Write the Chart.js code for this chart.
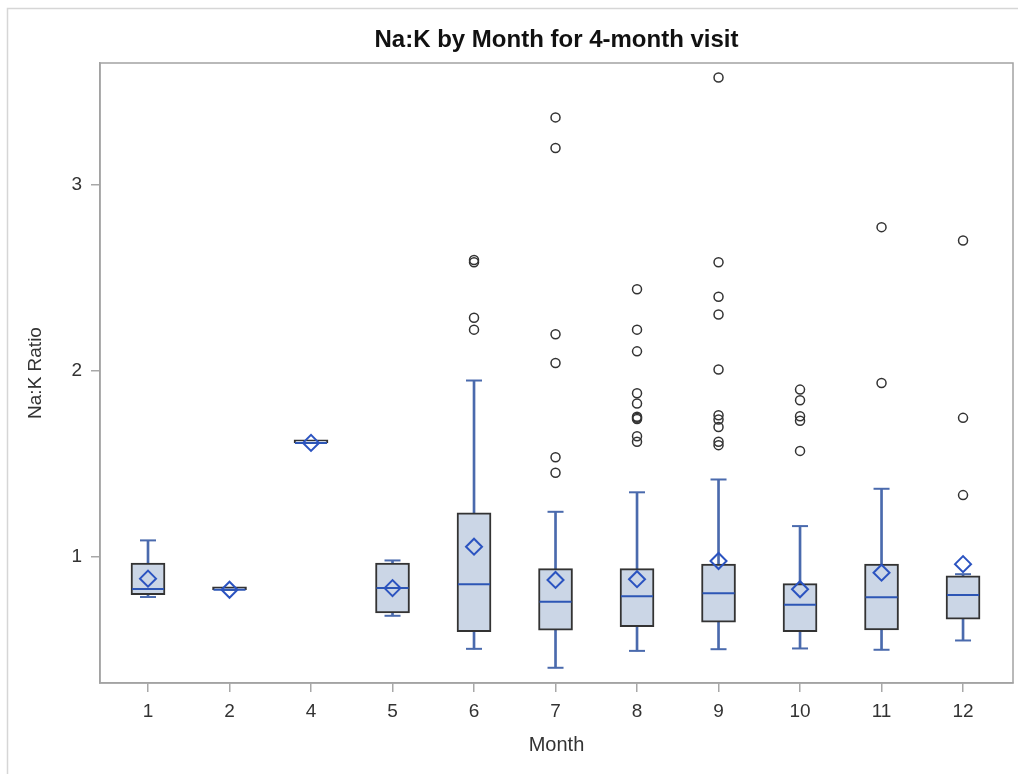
<!DOCTYPE html>
<html>
<head>
<meta charset="utf-8">
<script src="https://cdn.jsdelivr.net/npm/chart.js@4.4.1/dist/chart.umd.min.js"></script>
<style>
  html, body { margin: 0; padding: 0; background: #fff; }
  canvas { display: block; }
</style>
</head>
<body>
<canvas id="box-chart" width="1018" height="774"></canvas>
<script>
// months on the x axis (there is no month 3)
const months = ['1', '2', '4', '5', '6', '7', '8', '9', '10', '11', '12'];

// box statistics per month
const whiskerLow  = [0.781, 0.820, 1.611, 0.680, 0.502, 0.400, 0.491, 0.500, 0.504, 0.497, 0.547];
const q1          = [0.794, 0.820, 1.611, 0.696, 0.595, 0.603, 0.622, 0.646, 0.594, 0.604, 0.662];
const medians     = [0.824, 0.820, 1.611, 0.829, 0.850, 0.755, 0.785, 0.802, 0.739, 0.780, 0.792];
const q3          = [0.964, 0.820, 1.611, 0.964, 1.235, 0.934, 0.934, 0.958, 0.853, 0.958, 0.895];
const whiskerHigh = [1.086, 0.820, 1.611, 0.978, 1.947, 1.240, 1.345, 1.414, 1.163, 1.364, 0.904];
const means       = [0.880, 0.820, 1.611, 0.829, 1.052, 0.873, 0.877, 0.975, 0.823, 0.912, 0.958];

// outliers per month
const outliers = [
  [],
  [],
  [],
  [],
  [2.584, 2.596, 2.285, 2.221],
  [3.364, 3.199, 2.196, 2.041, 1.534, 1.450],
  [2.439, 2.221, 2.104, 1.878, 1.823, 1.752, 1.746, 1.740, 1.647, 1.617],
  [3.579, 2.584, 2.398, 2.303, 2.006, 1.760, 1.737, 1.697, 1.617, 1.599],
  [1.898, 1.841, 1.755, 1.730, 1.568],
  [2.773, 1.934],
  [2.701, 1.746, 1.330]
];

const yTicks = [1, 2, 3];

const FONT = '"Liberation Sans", Arial, sans-serif';
const TEXT = '#333';

const outlierPoints = [];
outliers.forEach((vals, i) => vals.forEach(v => outlierPoints.push({x: i, y: v})));

const framePlugin = {
  id: 'frame',
  beforeDraw(chart) {
    const ctx = chart.ctx;
    ctx.save();
    ctx.strokeStyle = '#d6d6d6';
    ctx.lineWidth = 1.5;
    ctx.beginPath();
    ctx.moveTo(7.5, chart.height);
    ctx.lineTo(7.5, 8.5);
    ctx.lineTo(chart.width, 8.5);
    ctx.stroke();
    ctx.restore();
  },
  beforeDatasetsDraw(chart) {
    const a = chart.chartArea, ctx = chart.ctx;
    ctx.save();
    ctx.strokeStyle = '#a3a3a3';
    ctx.lineWidth = 1.5;
    ctx.strokeRect(a.left, a.top, a.right - a.left, a.bottom - a.top);
    ctx.restore();
  }
};

new Chart(document.getElementById('box-chart'), {
  type: 'bar',
  data: {
    datasets: [{
        label: 'outliers',
        type: 'scatter',
        data: outlierPoints,
        pointStyle: 'circle',
        pointRadius: 4.5,
        borderColor: '#333',
        backgroundColor: 'rgba(0,0,0,0)',
        borderWidth: 1.5,
        order: 0
      }, {
        label: 'mean',
        type: 'scatter',
        data: means.map((v, i) => ({x: i, y: v})),
        pointStyle: 'rectRot',
        pointRadius: 8,
        borderColor: '#2b53c0',
        backgroundColor: 'rgba(0,0,0,0)',
        borderWidth: 2,
        order: 1
      }, {
        label: 'median',
        type: 'scatter',
        data: medians.map((v, i) => ({x: i, y: v})),
        pointStyle: 'line',
        pointRadius: 16,
        borderColor: '#2d56b5',
        borderWidth: 2,
        order: 2
      }, {
        label: 'box',
        data: months.map((m, i) => ({x: i, y: [q1[i], q3[i]]})),
        backgroundColor: '#cbd6e6',
        borderColor: '#333',
        borderWidth: 2,
        borderSkipped: false,
        barThickness: 34,
        minBarLength: 3,
        grouped: false,
        order: 3
      }, {
        label: 'caps',
        type: 'scatter',
        data: months.flatMap((m, i) => [{x: i, y: whiskerLow[i]}, {x: i, y: whiskerHigh[i]}]),
        pointStyle: 'line',
        pointRadius: 8,
        borderColor: '#4a6aad',
        borderWidth: 2,
        order: 4
      }, {
        label: 'whisker',
        data: months.map((m, i) => ({x: i, y: [whiskerLow[i], whiskerHigh[i]]})),
        backgroundColor: '#4a6aad',
        borderWidth: 0,
        barThickness: 2,
        grouped: false,
        order: 5
      }
    ]
  },
  options: {
    responsive: false,
    animation: false,
    layout: { autoPadding: false, padding: { left: 0, right: 5, top: 0, bottom: 0 } },
    plugins: {
      legend: { display: false },
      tooltip: { enabled: false },
      title: {
        display: true,
        text: 'Na:K by Month for 4-month visit',
        color: '#111',
        fullSize: false,
        font: { family: FONT, size: 24, weight: 'bold' },
        padding: { top: 25.6, bottom: 8.6 }
      }
    },
    scales: {
      x: {
        type: 'linear',
        offset: false,
        min: -0.589,
        max: 10.613,
        afterBuildTicks: s => { s.ticks = months.map((m, i) => ({value: i})); },
        afterFit: s => { s.height = 91; s.paddingLeft = 0; s.paddingRight = 0; },
        ticks: {
          callback: v => months[v],
          color: TEXT,
          padding: 8,
          maxRotation: 0,
          font: { family: FONT, size: 19 }
        },
        grid: { offset: false, drawOnChartArea: false, drawTicks: true, tickLength: 9, color: '#a8a8a8', lineWidth: 1.5 },
        border: { display: true, color: '#a3a3a3', width: 1.5 },
        title: {
          display: true,
          text: 'Month',
          color: TEXT,
          font: { family: FONT, size: 20 },
          padding: { top: 0, bottom: 17 }
        }
      },
      y: {
        type: 'linear',
        min: 0.318,
        max: 3.657,
        afterBuildTicks: s => { s.ticks = yTicks.map(v => ({value: v})); },
        afterFit: s => { s.width = 100; },
        ticks: {
          color: TEXT,
          padding: 9,
          font: { family: FONT, size: 19 }
        },
        grid: { drawOnChartArea: false, drawTicks: true, tickLength: 9, color: '#a8a8a8', lineWidth: 1.5 },
        border: { display: true, color: '#a3a3a3', width: 1.5 },
        title: {
          display: true,
          text: 'Na:K Ratio',
          color: TEXT,
          font: { family: FONT, size: 19 },
          padding: { top: 24.6, bottom: 0 }
        }
      }
    }
  },
  plugins: [framePlugin]
});
</script>
</body>
</html>
